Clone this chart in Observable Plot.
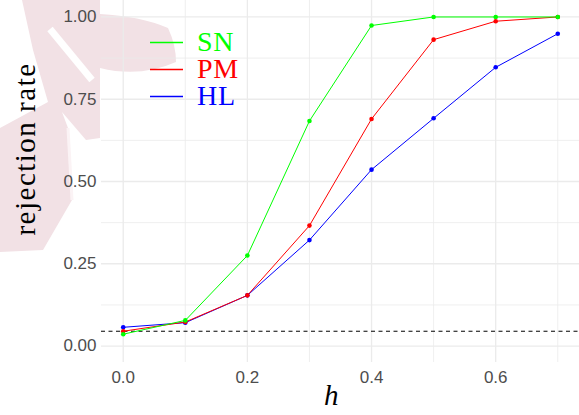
<!DOCTYPE html>
<html>
<head>
<meta charset="utf-8">
<script src="https://cdn.jsdelivr.net/npm/d3@7"></script>
<script src="https://cdn.jsdelivr.net/npm/@observablehq/plot@0.6"></script>
<style>
  html, body { margin: 0; padding: 0; background: #ffffff; }
  #wrap { position: relative; width: 579px; height: 415px; overflow: hidden; }
  #wrap > svg { position: absolute; left: 0; top: 0; }
</style>
</head>
<body>
<div id="wrap"></div>
<script>
// ---- data ----
const h = [0, 0.1, 0.2, 0.3, 0.4, 0.5, 0.6, 0.7];
const SN = [0.036, 0.078, 0.275, 0.684, 0.974, 1.0, 1.0, 1.0];
const PM = [0.045, 0.073, 0.154, 0.366, 0.690, 0.931, 0.987, 1.0];
const HL = [0.057, 0.071, 0.154, 0.322, 0.536, 0.692, 0.847, 0.949];
const seriesNames = ["SN", "PM", "HL"];
const seriesColors = ["#00ff00", "#ff0000", "#0000ff"];
const alphaLevel = 0.045;
const xMajor = [0, 0.2, 0.4, 0.6];
const xMinor = [0.1, 0.3, 0.5, 0.7];
const yMajor = [0, 0.25, 0.5, 0.75, 1];
const yMinor = [0.125, 0.375, 0.625, 0.875];

const values = { SN, PM, HL };
const drawOrder = ["HL", "PM", "SN"];
const rows = [];
for (const s of drawOrder) h.forEach((x, i) => rows.push({ h: x, rate: values[s][i], series: s }));

const wrap = document.getElementById("wrap");
const NS = "http://www.w3.org/2000/svg";
const SERIF = "Liberation Serif";
function el(parent, tag, attrs, text) {
  const e = document.createElementNS(NS, tag);
  for (const k in attrs) e.setAttribute(k, attrs[k]);
  if (text != null) e.textContent = text;
  parent.appendChild(e);
  return e;
}

// ---- faint background watermark (decorative) ----
const bg = el(wrap, "svg", { width: 579, height: 415 });
el(bg, "path", {
  d: "M22,0 L100,0 L100,14 Q140,16 168,28 Q176,45 176,62 Q140,78 100,68 L100,138 L86,140 L62,112 " +
     "L68,128 L72,200 L43,250 L0,252 L0,128 L48,102 L33,50 Z",
  fill: "#f2e1e5"
});
el(bg, "path", { d: "M68,128 L72,200", stroke: "#fbf3f5", "stroke-width": 3, fill: "none" });
el(bg, "line", { x1: 50, y1: 29, x2: 92, y2: 80, stroke: "#ffffff", "stroke-width": 7 });

// ---- chart ----
const chart = Plot.plot({
  width: 579,
  height: 415,
  marginTop: 0,
  marginRight: 0,
  marginBottom: 53,
  marginLeft: 101,
  style: { background: "transparent", fontFamily: "Liberation Sans, Arial, sans-serif", color: "#4d4d4d" },
  x: { domain: [-0.035, 0.735] },
  y: { domain: [-0.05, 1.05] },
  color: { domain: seriesNames, range: seriesColors },
  marks: [
    Plot.gridX(xMinor, { stroke: "#ebebeb", strokeOpacity: 1, strokeWidth: 0.8 }),
    Plot.gridY(yMinor, { stroke: "#ebebeb", strokeOpacity: 1, strokeWidth: 0.8 }),
    Plot.gridX(xMajor, { stroke: "#ebebeb", strokeOpacity: 1, strokeWidth: 1.3 }),
    Plot.gridY(yMajor, { stroke: "#ebebeb", strokeOpacity: 1, strokeWidth: 1.3 }),
    Plot.axisX(xMajor, { tickSize: 0, tickPadding: 8, tickFormat: d3.format(".1f"), label: null, fontSize: 17, fill: "#4d4d4d" }),
    Plot.axisY(yMajor, { tickSize: 0, tickPadding: 5, tickFormat: d3.format(".2f"), label: null, fontSize: 17, fill: "#4d4d4d" }),
    Plot.ruleY([alphaLevel], { stroke: "#000000", strokeWidth: 1, strokeDasharray: "4,3.5" }),
    Plot.line(rows, { x: "h", y: "rate", z: "series", stroke: "series", strokeWidth: 1 }),
    Plot.dot(rows, { x: "h", y: "rate", fill: "series", r: 2.3, stroke: "none" })
  ]
});
wrap.appendChild(chart);

// ---- titles and legend ----
const ov = el(wrap, "svg", { width: 579, height: 415 });
ov.style.pointerEvents = "none";
el(ov, "text", { "font-family": SERIF, transform: "translate(35,149) rotate(-90)", "text-anchor": "middle",
  "font-size": 29, "letter-spacing": 1.5, fill: "#000000" }, "rejection rate");
el(ov, "text", { "font-family": SERIF, x: 324, y: 405, "font-style": "italic", "font-size": 29, fill: "#000000" }, "h");
const lineYs = [42.5, 69.5, 96.5];
const baseYs = [50.5, 78, 105];
seriesNames.forEach((s, i) => {
  el(ov, "line", { x1: 150, x2: 183, y1: lineYs[i], y2: lineYs[i], stroke: seriesColors[i], "stroke-width": 1.4 });
  el(ov, "text", { "font-family": SERIF, x: 197, y: baseYs[i], fill: seriesColors[i], "font-size": 28, "letter-spacing": 0.8 }, s);
});
</script>
</body>
</html>
